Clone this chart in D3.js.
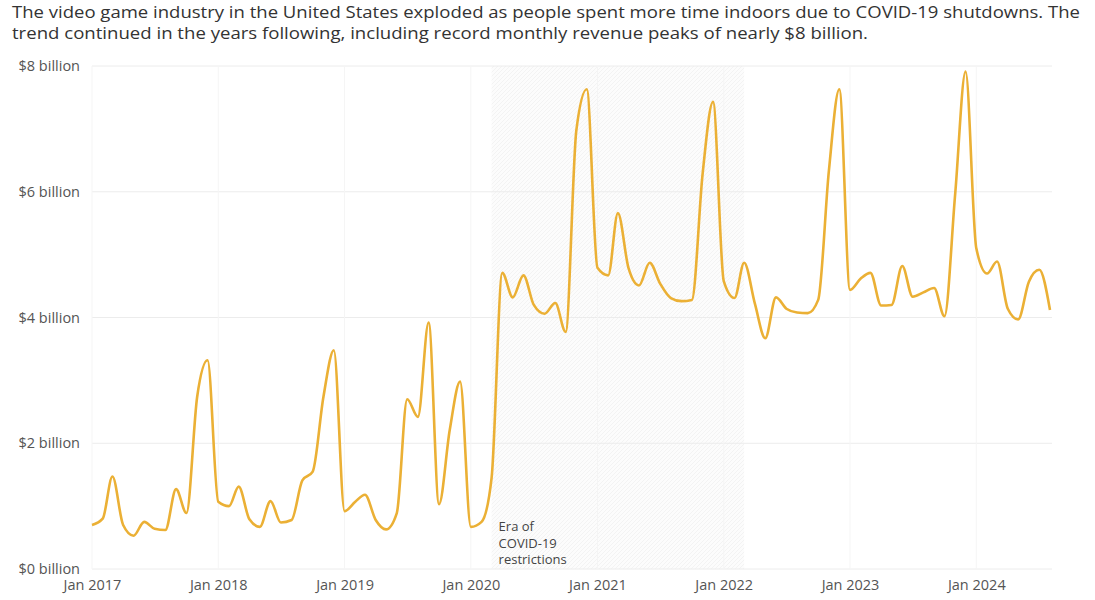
<!DOCTYPE html>
<html>
<head>
<meta charset="utf-8">
<script src="https://cdn.jsdelivr.net/npm/d3@7"></script>
<style>
  html, body { margin: 0; padding: 0; background: #fff; }
  svg { display: block; }
  text { font-family: "Open Sans", "Noto Sans", sans-serif; }
</style>
</head>
<body>
<svg id="chart" width="1095" height="600"></svg>
<script>
// ---- data ----
const titleLines = [
  "The video game industry in the United States exploded as people spent more time indoors due to COVID-19 shutdowns. The",
  "trend continued in the years following, including record monthly revenue peaks of nearly $8 billion."
];
const startMonth = "2017-01";
const revenue = [
  // 2017
  0.70, 0.80, 1.47, 0.70, 0.53, 0.75, 0.64, 0.62, 1.27, 0.89, 2.74, 3.32,
  // 2018
  1.07, 1.00, 1.31, 0.79, 0.67, 1.08, 0.74, 0.78, 1.41, 1.55, 2.74, 3.48,
  // 2019
  0.92, 1.07, 1.18, 0.78, 0.63, 0.89, 2.70, 2.42, 3.92, 1.03, 2.21, 2.98,
  // 2020
  0.67, 0.75, 1.45, 4.71, 4.32, 4.67, 4.20, 4.06, 4.23, 3.77, 6.98, 7.63,
  // 2021
  4.79, 4.67, 5.66, 4.78, 4.51, 4.87, 4.54, 4.31, 4.26, 4.28, 6.29, 7.43,
  // 2022
  4.58, 4.31, 4.87, 4.22, 3.67, 4.32, 4.14, 4.08, 4.07, 4.28, 6.34, 7.63,
  // 2023
  4.44, 4.62, 4.71, 4.19, 4.20, 4.82, 4.33, 4.40, 4.47, 4.02, 5.97, 7.91,
  // 2024
  5.10, 4.70, 4.89, 4.14, 3.97, 4.57, 4.76, 4.12
];
const yTicks = [0, 2, 4, 6, 8];
const xTickYears = [2017, 2018, 2019, 2020, 2021, 2022, 2023, 2024];
const covidStart = "2020-03";
const covidEnd = "2022-03";
const annotationLines = ["Era of", "COVID-19", "restrictions"];

// ---- setup ----
const parse = d3.timeParse("%Y-%m");
const t0 = parse(startMonth);
const data = revenue.map((v, i) => ({ date: d3.timeMonth.offset(t0, i), value: v }));

const svg = d3.select("#chart");
const margin = { left: 92 };

const x = d3.scaleTime()
  .domain([t0, d3.timeMonth.offset(t0, 91)])
  .range([margin.left, 1050]);
const y = d3.scaleLinear().domain([0, 8]).range([569, 66]);
const gridRight = 1052;

// pattern for shaded region
const defs = svg.append("defs");
const pat = defs.append("pattern")
  .attr("id", "hatch").attr("patternUnits", "userSpaceOnUse")
  .attr("width", 4).attr("height", 4);
pat.append("rect").attr("width", 4).attr("height", 4).attr("fill", "#fcfcfc");
pat.append("path").attr("d", "M-1,1 l2,-2 M0,4 l4,-4 M3,5 l2,-2")
  .attr("stroke", "#f3f3f3").attr("stroke-width", 1);

// title
svg.append("g").selectAll("text").data(titleLines).join("text")
  .attr("x", 12).attr("y", (d, i) => 18 + i * 21)
  .attr("font-size", 17).attr("fill", "#333")
  .attr("textLength", (d, i) => i === 0 ? 1068 : 856)
  .attr("lengthAdjust", "spacingAndGlyphs")
  .text(d => d);

// shaded covid region
svg.append("rect")
  .attr("x", x(parse(covidStart)))
  .attr("y", y(8))
  .attr("width", x(parse(covidEnd)) - x(parse(covidStart)))
  .attr("height", y(0) - y(8))
  .attr("fill", "url(#hatch)");

// horizontal grid
svg.append("g").selectAll("line").data(yTicks).join("line")
  .attr("x1", margin.left).attr("x2", gridRight)
  .attr("y1", d => y(d)).attr("y2", d => y(d))
  .attr("stroke", "#ececec").attr("stroke-width", 1);

// vertical grid
const yearDates = xTickYears.map(yr => new Date(yr, 0, 1));
svg.append("g").selectAll("line").data(yearDates).join("line")
  .attr("x1", d => x(d)).attr("x2", d => x(d))
  .attr("y1", y(8)).attr("y2", y(0))
  .attr("stroke", "#f5f5f5").attr("stroke-width", 1);

// y axis labels
const yAxis = d3.axisLeft(y).tickValues(yTicks)
  .tickFormat(d => "$" + d + " billion").tickSize(0).tickPadding(12);
const gy = svg.append("g").attr("transform", `translate(${margin.left},0)`).call(yAxis);
gy.select(".domain").remove();
gy.selectAll("text").attr("font-size", 14.5).attr("fill", "#555")
  .attr("font-family", "'Open Sans', sans-serif");

// x axis labels
const xAxis = d3.axisBottom(x).tickValues(yearDates)
  .tickFormat(d3.timeFormat("Jan %Y")).tickSize(0).tickPadding(11);
const gx = svg.append("g").attr("transform", `translate(0,${y(0)})`).call(xAxis);
gx.select(".domain").remove();
gx.selectAll("text").attr("font-size", 14.5).attr("fill", "#555")
  .attr("font-family", "'Open Sans', sans-serif");

// line
const line = d3.line()
  .x(d => x(d.date)).y(d => y(d.value))
  .curve(d3.curveMonotoneX);
svg.append("path").datum(data)
  .attr("d", line)
  .attr("fill", "none")
  .attr("stroke", "#EBB035")
  .attr("stroke-width", 2.6)
  .attr("stroke-linejoin", "round");

// annotation
svg.append("g").selectAll("text").data(annotationLines).join("text")
  .attr("x", x(parse(covidStart)) + 7)
  .attr("y", (d, i) => 531 + i * 16.5)
  .attr("font-size", 13).attr("fill", "#444")
  .text(d => d);
</script>
</body>
</html>
